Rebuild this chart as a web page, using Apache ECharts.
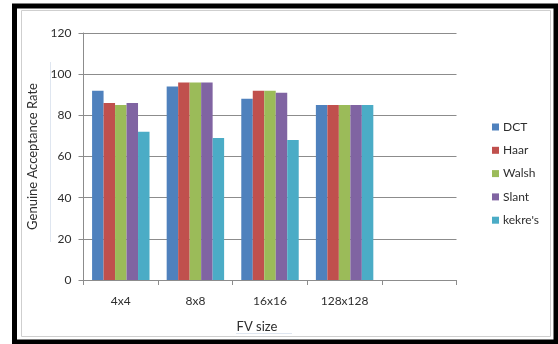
<!DOCTYPE html>
<html>
<head>
<meta charset="utf-8">
<script src="https://cdn.jsdelivr.net/npm/echarts@6/dist/echarts.min.js"></script>
<style>
  html, body { margin: 0; padding: 0; background: #fff; }
  #chart { width: 558px; height: 344px; }
</style>
</head>
<body>
<div id="chart"></div>
<script>
let chart = echarts.init(document.getElementById("chart"));

// data
var categories = ['4x4', '8x8', '16x16', '128x128', '']
var dct = [92, 94, 88, 85, null]
var haar = [86, 96, 92, 85, null]
var walsh = [85, 96, 92, 85, null]
var slant = [86, 96, 91, 85, null]
var kekre = [72, 69, 68, 85, null]
var seriesNames = ['DCT', 'Haar', 'Walsh', 'Slant', "kekre's"]
var seriesColors = ['#4F81BD', '#C0504D', '#9BBB59', '#8064A2', '#4BACC6']
var yTicks = { min: 0, max: 120, interval: 20 }

var font = 'Lato, "Liberation Sans", sans-serif'
var textColor = '#2e2e2e'
var lineColor = '#8c8c8c'

var allData = [dct, haar, walsh, slant, kekre]
var series = []
for (var i = 0; i < allData.length; i++) {
    series.push({
        name: seriesNames[i],
        type: 'bar',
        data: allData[i],
        barGap: '0%',
        barCategoryGap: '23%',
        itemStyle: { color: seriesColors[i] }
    })
}

let option = {
    animation: false,
    backgroundColor: '#fff',
    textStyle: { fontFamily: font },
    grid: { left: 83.5, right: 101.5, top: 33, bottom: 64 },
    legend: {
        orient: 'vertical',
        left: 487,
        top: 116,
        itemWidth: 7,
        itemHeight: 7,
        itemGap: 11.3,
        icon: 'rect',
        data: seriesNames,
        textStyle: { fontFamily: font, fontSize: 12, color: textColor, padding: [0, 0, 0, -1] }
    },
    xAxis: {
        type: 'category',
        data: categories,
        name: 'FV size',
        nameLocation: 'middle',
        nameGap: 40,
        nameTextStyle: { fontFamily: font, fontSize: 13, color: textColor, padding: [0, 26, 0, 0] },
        axisLine: { lineStyle: { color: lineColor } },
        axisTick: { show: true, length: 5, lineStyle: { color: lineColor } },
        axisLabel: { fontFamily: font, fontSize: 12, color: textColor, margin: 15 }
    },
    yAxis: {
        type: 'value',
        min: yTicks.min,
        max: yTicks.max,
        interval: yTicks.interval,
        name: 'Genuine Acceptance Rate',
        nameLocation: 'middle',
        nameGap: 38,
        nameTextStyle: { fontFamily: font, fontSize: 13, color: textColor },
        axisLine: { show: true, lineStyle: { color: lineColor } },
        axisTick: { show: true, length: 5, lineStyle: { color: lineColor } },
        axisLabel: { fontFamily: font, fontSize: 12, color: textColor, margin: 12 },
        splitLine: { lineStyle: { color: lineColor } }
    },
    graphic: [
        // light excel chart border
        { type: 'rect', silent: true, shape: { x: 21.5, y: 10.5, width: 529, height: 326 },
          style: { fill: null, stroke: '#cfcfcf', lineWidth: 1 } },
        // faint selection lines next to axis titles
        { type: 'line', silent: true, shape: { x1: 50.5, y1: 62, x2: 50.5, y2: 242 },
          style: { stroke: '#dfe6f0', lineWidth: 1 } },
        { type: 'line', silent: true, shape: { x1: 236, y1: 333.5, x2: 292, y2: 333.5 },
          style: { stroke: '#dfe6f0', lineWidth: 1 } },
        // black outer frame
        { type: 'rect', silent: true, shape: { x: 14.5, y: 6, width: 541.5, height: 336 },
          style: { fill: null, stroke: '#000', lineWidth: 5 } }
    ],
    series: series
};

chart.setOption(option);
</script>
</body>
</html>
